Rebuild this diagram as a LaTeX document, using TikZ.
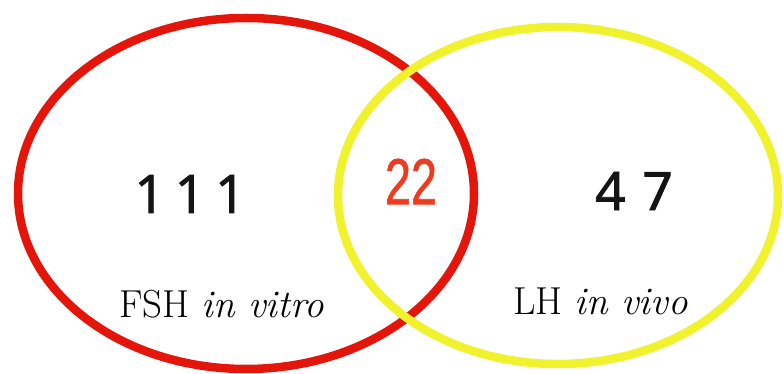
\documentclass[tikz,border=0pt]{standalone}
\usepackage{fontspec}
\newfontfamily\numfont[FakeBold=1.4]{Noto Sans}
\newfontfamily\narrowfont[FakeBold=1.2]{Liberation Sans}
\definecolor{vennred}{RGB}{228,22,12}
\definecolor{vennyellow}{RGB}{240,242,45}
\definecolor{numred}{RGB}{238,58,30}
\begin{document}
\begin{tikzpicture}[x=1pt,y=1pt,
  setline/.style={line width=8.5pt},
  bignum/.style={font=\numfont\fontsize{53}{53}\selectfont, text=black!92, inner sep=0pt},
  setlabel/.style={font=\fontsize{39}{39}\selectfont, anchor=base, inner sep=0pt}]
\useasboundingbox (0,0) rectangle (783,374);
\draw[setline, vennred] (246,180.5) ellipse [x radius=228, y radius=175.5];
\draw[setline, vennyellow] (558,178.5) ellipse [x radius=220, y radius=168.5];
\node[bignum] (a) at (190,180) {1\hspace{10pt}1\hspace{10pt}1};
\node[bignum] (b) at (634,183) {4\hspace{17pt}7};
\node[inner sep=0pt, text=numred] (ab) at (411,192.5) {\scalebox{0.72}[1]{\narrowfont\fontsize{65}{65}\selectfont 22}};
\node[setlabel] (la) at (221.5,56) {FSH \textit{in vitro}};
\node[setlabel] (lb) at (600.5,59) {LH \textit{in vivo}};
\end{tikzpicture}
\end{document}
